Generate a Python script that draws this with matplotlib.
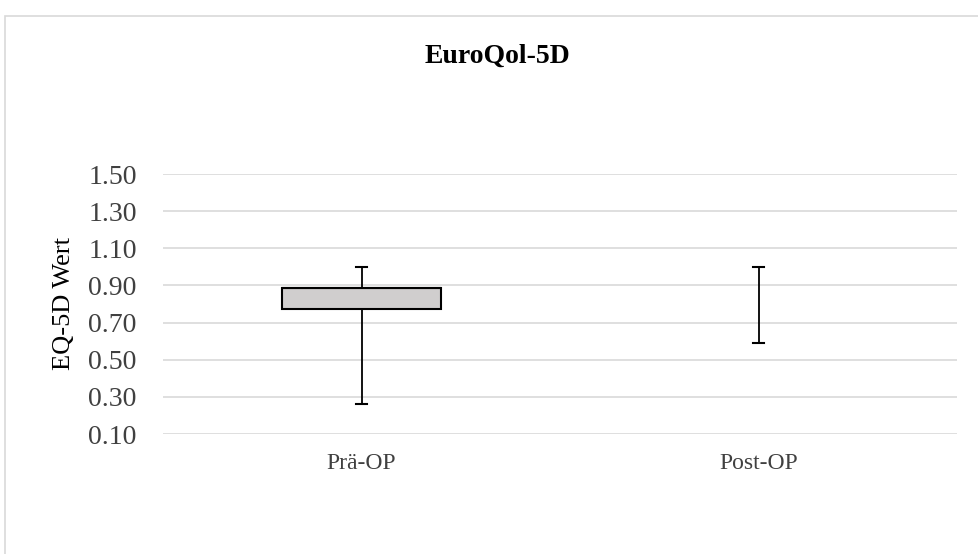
import matplotlib.pyplot as plt
from matplotlib.patches import Rectangle

# Werte
categories = ["Prä-OP", "Post-OP"]
whisker_low = [0.26, 0.59]
q1 = [0.775, 1.00]
median = [0.886, 1.00]
q3 = [0.886, 1.00]
whisker_high = [1.00, 1.00]
show_box = [True, False]
yticks = [0.10, 0.30, 0.50, 0.70, 0.90, 1.10, 1.30, 1.50]

plt.rcParams['font.family'] = ['Liberation Serif', 'DejaVu Serif']

fig = plt.figure(figsize=(9.79, 5.54), dpi=100)
ax = fig.add_axes([163 / 979, 120 / 554, 794 / 979, 260 / 554])

# äußerer Diagrammrahmen (wie in Excel)
fig.patches.append(Rectangle((5 / 979, -0.1), 1.2, 1 - 16 / 554 + 0.1,
                             transform=fig.transFigure, fill=False,
                             edgecolor='#d9d9d9', linewidth=1.2, zorder=0))

positions = [1, 2]
for i, cat in enumerate(categories):
    stats = [dict(label=cat, whislo=whisker_low[i], q1=q1[i], med=median[i],
                  q3=q3[i], whishi=whisker_high[i], fliers=[])]
    ax.bxp(stats, positions=[positions[i]], widths=0.4, capwidths=[0.03],
           showbox=show_box[i], showfliers=False, patch_artist=True,
           boxprops=dict(facecolor='#d0cece', edgecolor='black', linewidth=1.5),
           whiskerprops=dict(color='black', linewidth=1.3),
           capprops=dict(color='black', linewidth=1.5),
           medianprops=dict(color='black', linewidth=1.5 if show_box[i] else 0))

ax.set_xlim(0.5, 2.5)
ax.set_ylim(0.10, 1.50)
ax.set_xticks(positions)
ax.set_xticklabels(categories, fontsize=17, color='#404040')
ax.set_yticks(yticks)
ax.set_yticklabels([f"{v:.2f}" for v in yticks], fontsize=20, color='#404040')
ax.tick_params(axis='both', length=0)
ax.tick_params(axis='x', pad=14)
ax.tick_params(axis='y', pad=19)

ax.grid(axis='y', color='#d9d9d9', linewidth=1.2)
ax.set_axisbelow(True)
for s in ax.spines.values():
    s.set_visible(False)

ax.set_ylabel("EQ-5D Wert", fontsize=19, color='black')
ax.yaxis.set_label_coords(-(163 - 75) / 794, 0.5)

fig.text(497 / 979, 1 - 56 / 554, "EuroQol-5D", fontsize=20, fontweight='bold',
         ha='center', va='center', color='black')

fig.savefig("out.png", dpi=100, facecolor='white')
